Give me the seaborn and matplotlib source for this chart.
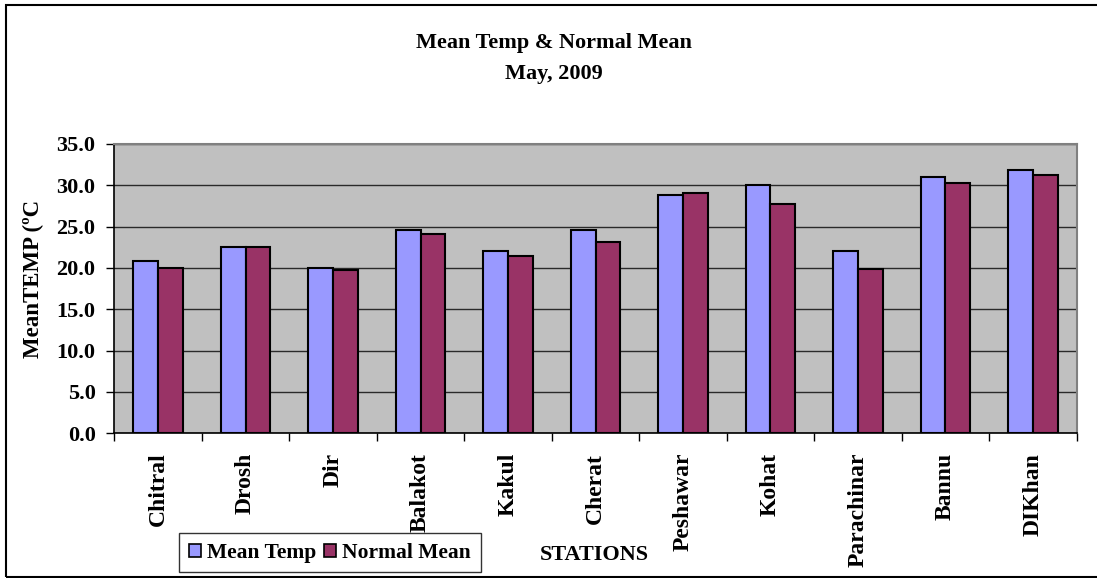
import matplotlib
matplotlib.use("Agg")
import matplotlib.pyplot as plt
from matplotlib.patches import Rectangle
from matplotlib.ticker import FixedLocator, FormatStrFormatter
import seaborn as sns
import pandas as pd

stations = ["Chitral", "Drosh", "Dir", "Balakot", "Kakul", "Cherat",
            "Peshawar", "Kohat", "Parachinar", "Bannu", "DIKhan"]
mean_temp = [20.8, 22.5, 20.0, 24.6, 22.0, 24.6, 28.8, 30.1, 22.0, 31.0, 31.9]
normal_mean = [20.0, 22.5, 19.7, 24.1, 21.5, 23.2, 29.1, 27.7, 19.9, 30.3, 31.2]
series_names = ["Mean Temp", "Normal Mean"]
colors = ["#9999FF", "#993366"]

df = pd.DataFrame({
    "Station": stations * 2,
    "Value": mean_temp + normal_mean,
    "Series": [series_names[0]] * len(stations) + [series_names[1]] * len(stations),
})

sns.set_style("white")
plt.rcParams["font.family"] = ["Liberation Serif", "DejaVu Serif"]
plt.rcParams["font.weight"] = "bold"
plt.rcParams["text.color"] = "black"
plt.rcParams["axes.labelcolor"] = "black"
plt.rcParams["xtick.color"] = "black"
plt.rcParams["ytick.color"] = "black"

W, H = 1097, 578
fig = plt.figure(figsize=(W / 100, H / 100), dpi=100)
L, R, T, B = 114.3, 1076.7, 144.0, 433.3
ax = fig.add_axes([L / W, 1 - B / H, (R - L) / W, (B - T) / H])
ax.set_facecolor("#C0C0C0")

sns.barplot(data=df, x="Station", y="Value", hue="Series", order=stations,
            hue_order=series_names, palette=colors, saturation=1,
            width=0.57, edgecolor="black", linewidth=1.5, ax=ax, zorder=3)

handles, labels = ax.get_legend_handles_labels()
if ax.get_legend() is not None:
    ax.get_legend().remove()

ax.set_xlim(-0.5, len(stations) - 0.5)
ax.set_ylim(0, 35)
ax.set_yticks([0, 5, 10, 15, 20, 25, 30, 35])
ax.yaxis.set_major_formatter(FormatStrFormatter("%.1f"))
ax.yaxis.grid(True, color="#2a2a2a", linewidth=1.0, zorder=1)
ax.set_axisbelow(True)

ax.tick_params(axis="y", direction="out", length=5.5, width=1, pad=8,
               labelsize=16, left=True, color="black", labelcolor="black")
ax.tick_params(axis="x", which="major", length=0, pad=14, labelsize=17,
               labelcolor="black")
ax.xaxis.set_minor_locator(FixedLocator([i - 0.5 for i in range(len(stations) + 1)]))
ax.tick_params(axis="x", which="minor", direction="out", length=6, width=1,
               bottom=True, color="black")
for lab in ax.get_xticklabels():
    lab.set_rotation(90)
    lab.set_va("top")
    lab.set_ha("center")
    lab.set_fontweight("bold")
for lab in ax.get_yticklabels():
    lab.set_fontweight("bold")

ax.set_xlabel("")
ax.set_ylabel("")
for side in ["left", "bottom"]:
    ax.spines[side].set_color("black")
    ax.spines[side].set_linewidth(1.2)
for side in ["top", "right"]:
    ax.spines[side].set_color("#808080")
    ax.spines[side].set_linewidth(1.5)

fig.text(554 / W, 1 - 43 / H, "Mean Temp & Normal Mean", ha="center", va="center",
         fontsize=16, fontweight="bold", color="black")
fig.text(554 / W, 1 - 74 / H, "May, 2009", ha="center", va="center",
         fontsize=16, fontweight="bold", color="black")
fig.text(33 / W, 1 - 278.5 / H, "MeanTEMP (ºC", ha="center", va="center",
         rotation=90, fontsize=16.5, fontweight="bold", color="black")
fig.text(594.5 / W, 1 - 555 / H, "STATIONS", ha="center", va="center",
         fontsize=16, fontweight="bold", color="black")

leg = fig.legend(handles, labels, loc="upper left",
                 bbox_to_anchor=(179 / W, 1 - 533 / H), ncol=2,
                 frameon=True, fancybox=False, shadow=False,
                 prop={"size": 15.5, "weight": "bold"},
                 handlelength=0.55, handleheight=0.55, handletextpad=0.3,
                 columnspacing=0.35, borderpad=0.45, borderaxespad=0)
leg.get_frame().set_edgecolor("black")
leg.get_frame().set_linewidth(1.0)
for t in leg.get_texts():
    t.set_color("black")
for h in leg.legend_handles:
    h.set_edgecolor("black")
    h.set_linewidth(1.2)

fig.patches.append(Rectangle((6 / W, 1 - 577 / H), (W + 20) / W, (577 - 5) / H,
                             transform=fig.transFigure, fill=False,
                             edgecolor="black", linewidth=1.5, zorder=10))

fig.savefig("out.png", dpi=100)
